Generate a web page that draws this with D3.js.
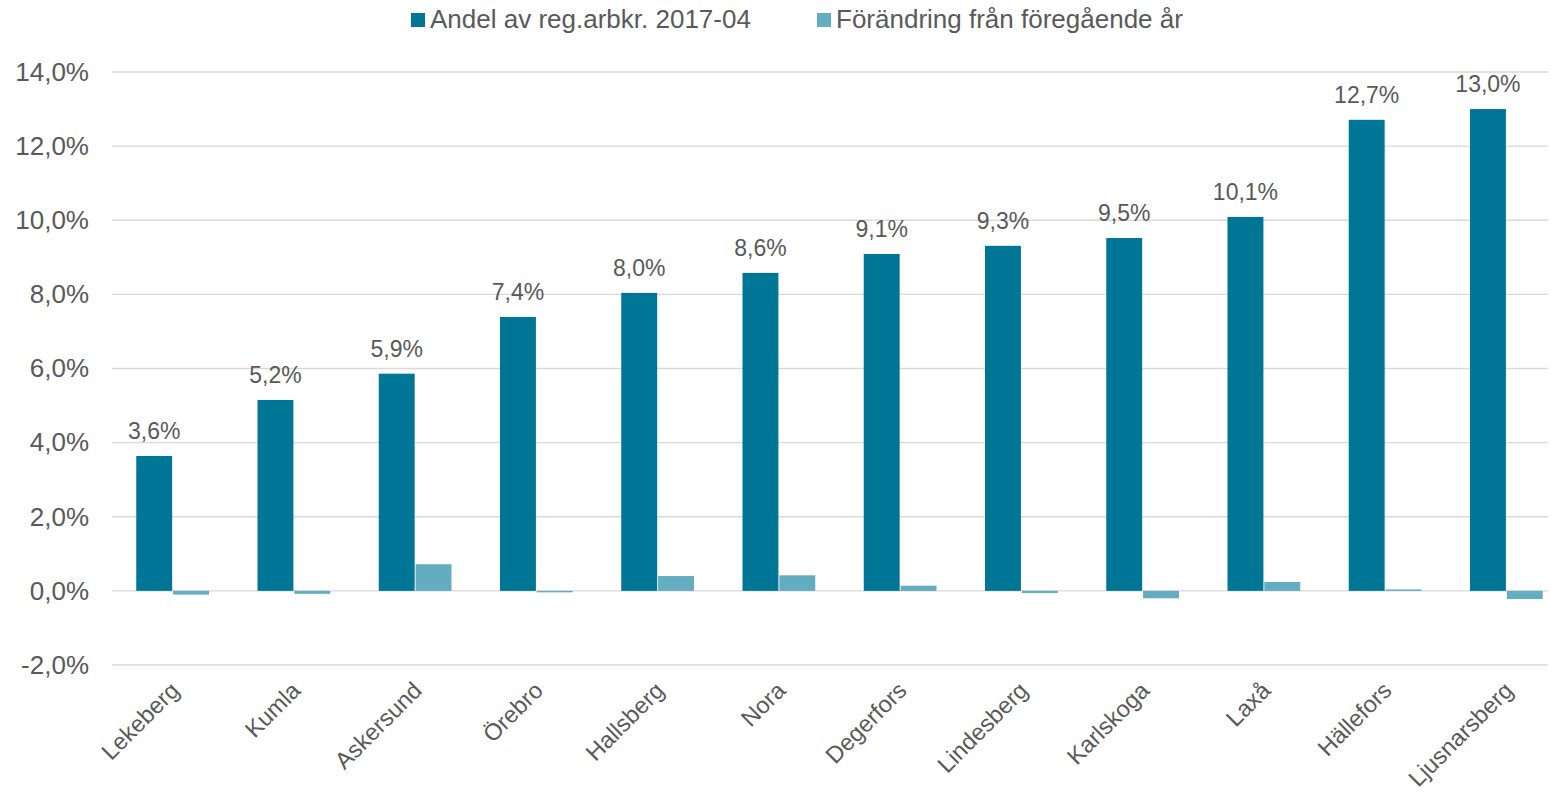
<!DOCTYPE html>
<html>
<head>
<meta charset="utf-8">
<script src="https://cdn.jsdelivr.net/npm/d3@7"></script>
<style>
  body { margin: 0; background: #fff; }
  text { font-family: "Liberation Sans", Arial, sans-serif; fill: #595959; }
</style>
</head>
<body>
<div id="chart_container"></div>
<script>
// Data
const kommuner = ["Lekeberg", "Kumla", "Askersund", "Örebro", "Hallsberg", "Nora",
  "Degerfors", "Lindesberg", "Karlskoga", "Laxå", "Hällefors", "Ljusnarsberg"]
const andel = [3.64, 5.15, 5.86, 7.39, 8.04, 8.58, 9.09, 9.31, 9.52, 10.09, 12.71, 13.0]
const forandring = [-0.1, -0.08, 0.72, -0.04, 0.4, 0.42, 0.14, -0.06, -0.2, 0.24, 0.04, -0.22]
const seriesNames = ["Andel av reg.arbkr. 2017-04", "Förändring från föregående år"]
const yTicks = [-2, 0, 2, 4, 6, 8, 10, 12, 14]

const colors = ["#007696", "#64acc0"]
const W = 1551, H = 793
const plotLeft = 112, plotRight = 1567, gridRight = 1548
const yTop = 72, yBottom = 665

const fmt = v => d3.format(".1f")(v).replace(".", ",").replace("−", "-") + "%"

const svg = d3.select("#chart_container").append("svg")
  .attr("width", W).attr("height", H)

const x = d3.scaleBand().domain(kommuner).range([plotLeft, plotRight]).paddingInner(0.4).paddingOuter(0.2)
const xs = d3.scaleBand().domain([0, 1]).range([0, x.bandwidth()]).paddingInner(0.025)
const y = d3.scaleLinear().domain([-2, 14]).range([yBottom, yTop])

// gridlines
svg.append("g").selectAll("line")
  .data(yTicks)
  .join("line")
  .attr("x1", plotLeft).attr("x2", gridRight)
  .attr("y1", d => y(d)).attr("y2", d => y(d))
  .attr("stroke", "#d9d9d9").attr("stroke-width", 1.3)

// y axis labels
svg.append("g")
  .attr("transform", `translate(89, 0)`)
  .call(d3.axisLeft(y).tickValues(yTicks).tickFormat(fmt).tickSize(0).tickPadding(0))
  .call(g => g.select(".domain").remove())
  .selectAll("text")
  .style("font-size", "26px")
  .style("fill", "#595959")
  .style("font-family", "Liberation Sans, Arial, sans-serif")

// bars
const groups = svg.append("g").selectAll("g")
  .data(kommuner)
  .join("g")
  .attr("transform", d => `translate(${x(d)},0)`)

groups.append("rect")
  .attr("x", xs(0)).attr("width", xs.bandwidth())
  .attr("y", (d, i) => y(Math.max(0, andel[i])))
  .attr("height", (d, i) => Math.abs(y(andel[i]) - y(0)))
  .attr("fill", colors[0])

groups.append("rect")
  .attr("x", xs(1)).attr("width", xs.bandwidth())
  .attr("y", (d, i) => y(Math.max(0, forandring[i])))
  .attr("height", (d, i) => Math.abs(y(forandring[i]) - y(0)))
  .attr("fill", colors[1])

// data labels
groups.append("text")
  .attr("x", xs(0) + xs.bandwidth() / 2)
  .attr("y", (d, i) => y(andel[i]) - 17)
  .attr("text-anchor", "middle")
  .style("font-size", "23px")
  .text((d, i) => fmt(andel[i]))

// category labels
svg.append("g").selectAll("text")
  .data(kommuner)
  .join("text")
  .attr("transform", d => `translate(${x(d) + x.bandwidth() / 2 + 8}, ${y(-2) + 27}) rotate(-45)`)
  .attr("text-anchor", "end")
  .style("font-size", "23.5px")
  .text(d => d)

// legend
const legendX = [411, 817]
const legend = svg.append("g").selectAll("g")
  .data(seriesNames)
  .join("g")
  .attr("transform", (d, i) => `translate(${legendX[i]}, 13)`)
legend.append("rect").attr("width", 14).attr("height", 14).attr("fill", (d, i) => colors[i])
legend.append("text")
  .attr("x", 19).attr("y", 15)
  .style("font-size", "26px")
  .text(d => d)
</script>
</body>
</html>
